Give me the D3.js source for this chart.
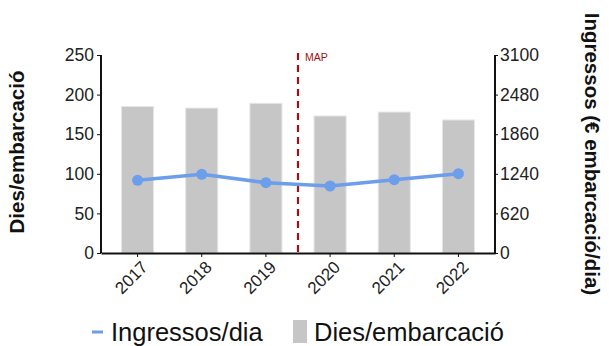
<!DOCTYPE html>
<html><head><meta charset="utf-8">
<script src="https://cdn.jsdelivr.net/npm/d3@7"></script>
<style>body{margin:0;background:#fff}svg{display:block;font-family:"Liberation Sans",Arial,sans-serif}</style>
</head><body><svg id="c" width="609" height="346"></svg>
<script>
const years = ["2017","2018","2019","2020","2021","2022"];
const diesEmbarcacio = [185, 183, 189, 173, 178, 168];
const ingressosDia = [1138, 1232, 1101, 1049, 1148, 1242];
const leftTicks = [0, 50, 100, 150, 200, 250];
const rightTicks = [0, 620, 1240, 1860, 2480, 3100];
const mapLabel = "MAP";

const svg = d3.select("#c");
const x = d3.scaleBand().domain(years).range([101, 495]).paddingInner(0.5).paddingOuter(0.32);
const yL = d3.scaleLinear().domain([0, 250]).range([253, 55]);
const yR = d3.scaleLinear().domain([0, 3100]).range([253, 55]);

// bars
svg.append("g").selectAll("rect").data(years).join("rect")
  .attr("x", d => x(d)).attr("width", x.bandwidth())
  .attr("y", (d,i) => yL(diesEmbarcacio[i])).attr("height", (d,i) => yL(0) - yL(diesEmbarcacio[i]))
  .attr("fill", "#c6c6c6").attr("stroke", "#e6e6e6").attr("stroke-width", 1);

// MAP line between 2019 and 2020
const mapX = (x("2019") + x.bandwidth()/2 + x("2020") + x.bandwidth()/2) / 2;
svg.append("line").attr("x1", mapX).attr("x2", mapX).attr("y1", yL(250) - 2).attr("y2", yL(0))
  .attr("stroke", "#a50f15").attr("stroke-width", 2.2).attr("stroke-dasharray", "7,5");
svg.append("text").attr("x", mapX + 7).attr("y", 61).text(mapLabel)
  .attr("fill", "#a50f15").attr("font-size", 10.5);

// line
const line = d3.line().x((d,i) => x(years[i]) + x.bandwidth()/2).y(d => yR(d)).curve(d3.curveLinear);
svg.append("path").datum(ingressosDia).attr("d", line).attr("fill", "none")
  .attr("stroke", "#6d9eeb").attr("stroke-width", 3.5);
svg.append("g").selectAll("circle").data(ingressosDia).join("circle")
  .attr("cx", (d,i) => x(years[i]) + x.bandwidth()/2).attr("cy", d => yR(d)).attr("r", 5.5)
  .attr("fill", "#6d9eeb");

// axes
const axL = svg.append("g").attr("transform", "translate(101,0)")
  .call(d3.axisLeft(yL).tickValues(leftTicks).tickSize(4).tickPadding(3));
const axR = svg.append("g").attr("transform", "translate(495,0)")
  .call(d3.axisRight(yR).tickValues(rightTicks).tickFormat(d3.format("d")).tickSize(3).tickPadding(2));
const axB = svg.append("g").attr("transform", "translate(0,253)")
  .call(d3.axisBottom(x).tickSize(4).tickPadding(3).tickSizeOuter(0));
[axL, axR, axB].forEach(a => {
  a.select(".domain").attr("stroke", "#111").attr("stroke-width", 2);
  a.selectAll(".tick line").attr("stroke", "#111").attr("stroke-width", 1);
  a.selectAll("text").attr("fill", "#222").attr("font-family", "Liberation Sans, Arial, sans-serif");
});
axL.select(".domain").attr("d", "M-0,55V253");
axR.select(".domain").attr("d", "M0,55V253");
axL.selectAll("text").attr("font-size", 17.5);
axR.selectAll("text").attr("font-size", 17.5);
axB.selectAll("text").attr("font-size", 17).attr("text-anchor", "end")
  .attr("y", 0).attr("dy", "0.35em")
  .attr("transform", "translate(7,11) rotate(-45)");

// axis titles
svg.append("text").attr("transform", "translate(24,152) rotate(-90)").attr("text-anchor", "middle")
  .attr("font-size", 20.5).attr("font-weight", "bold").attr("fill", "#111").text("Dies/embarcació");
svg.append("text").attr("transform", "translate(585,154) rotate(90)").attr("text-anchor", "middle")
  .attr("font-size", 20.5).attr("font-weight", "bold").attr("fill", "#111").text("Ingressos (€ embarcació/dia)");

// legend
const lg = svg.append("g");
lg.append("line").attr("x1", 92).attr("x2", 103).attr("y1", 332).attr("y2", 332)
  .attr("stroke", "#6d9eeb").attr("stroke-width", 3);
lg.append("text").attr("x", 111).attr("y", 341).attr("font-size", 25.5).attr("fill", "#111").text("Ingressos/dia");
lg.append("rect").attr("x", 293).attr("y", 320).attr("width", 14).attr("height", 23).attr("fill", "#c6c6c6");
lg.append("text").attr("x", 314).attr("y", 341).attr("font-size", 25.5).attr("fill", "#111").text("Dies/embarcació");
</script></body></html>
